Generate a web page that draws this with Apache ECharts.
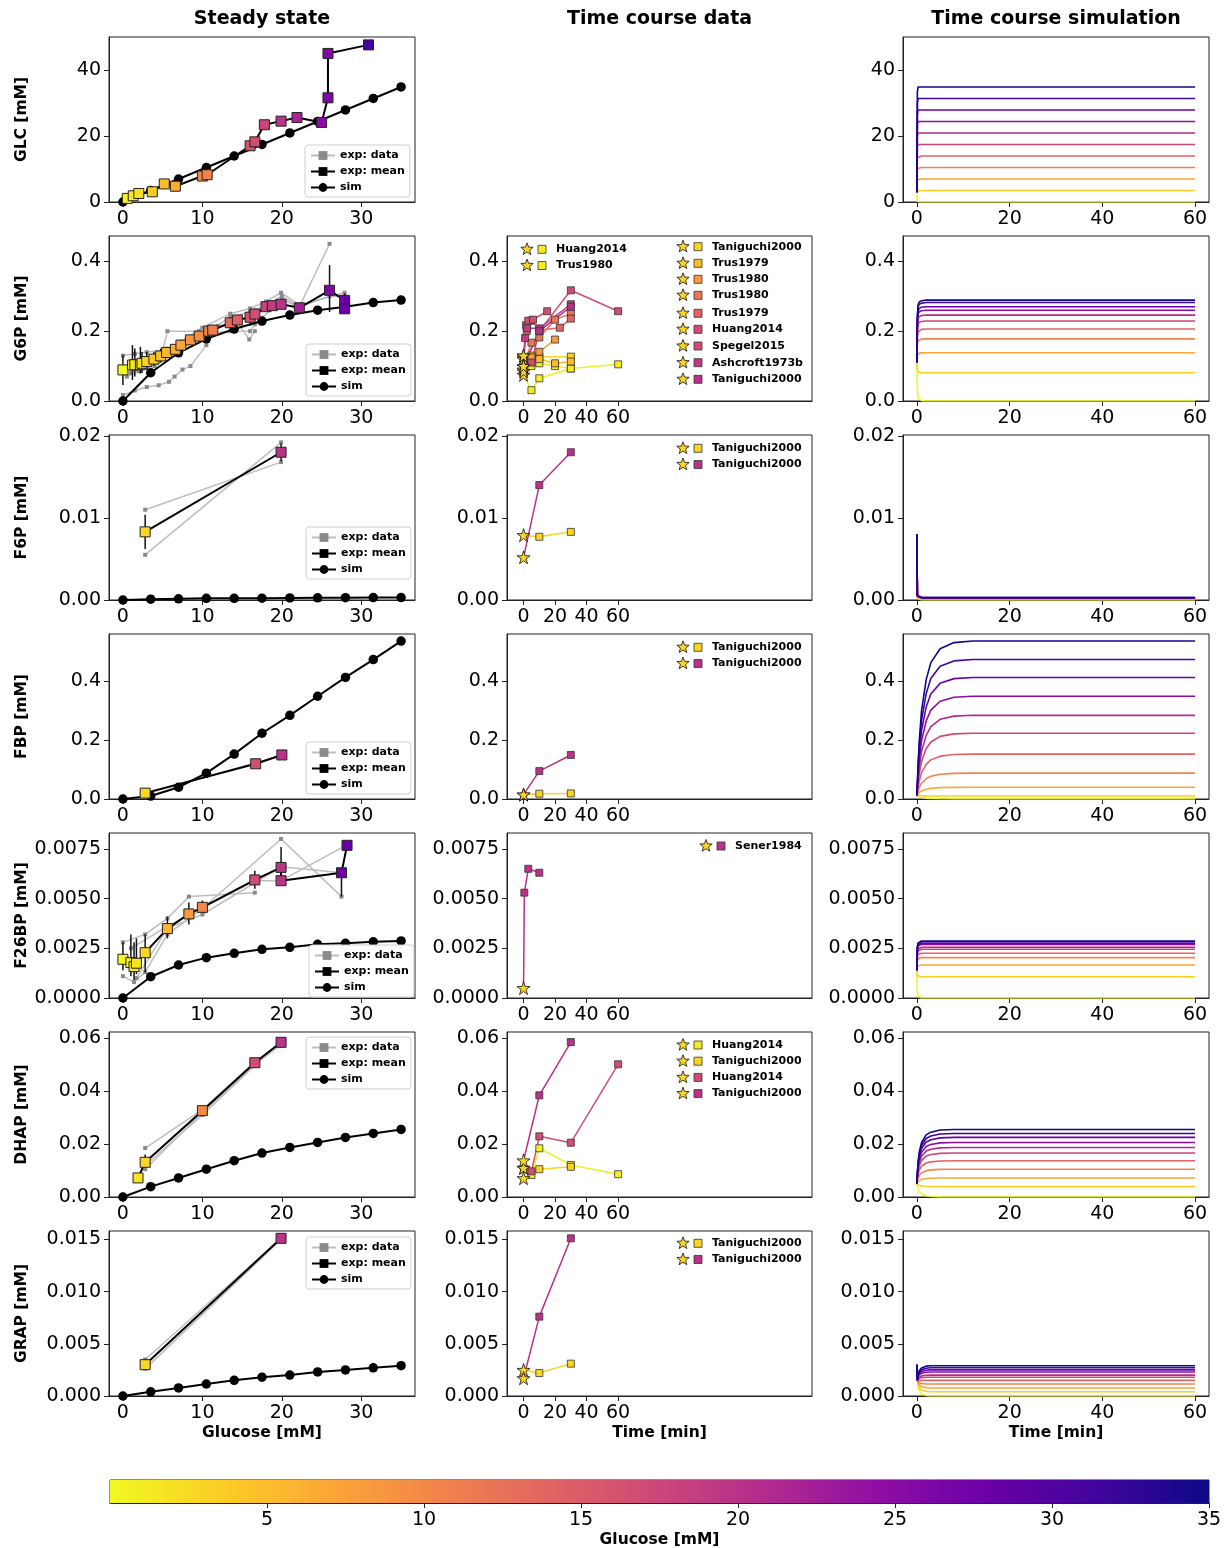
<!DOCTYPE html>
<html>
<head>
<meta charset="utf-8">
<script src="https://cdn.jsdelivr.net/npm/echarts@6/dist/echarts.min.js"></script>
<style>
html,body{margin:0;padding:0;background:#fff}
#chart{width:1227px;height:1548px}
</style>
</head>
<body>
<div id="chart"></div>
<script>
//==================== data ====================
var metabolites = ['GLC', 'G6P', 'F6P', 'FBP', 'F26BP', 'DHAP', 'GRAP'];
var glucoseSim = [0, 3.5, 7, 10.5, 14, 17.5, 21, 24.5, 28, 31.5, 35];

// simulated steady state per glucose
var glcSim = [0, 3.5, 7, 10.5, 14, 17.5, 21, 24.5, 28, 31.5, 35];
var g6pSim = [0, 0.081, 0.138, 0.178, 0.206, 0.229, 0.246, 0.26, 0.27, 0.282, 0.289];
var f6pSim = [0, 0.0001, 0.00015, 0.0002, 0.0002, 0.00022, 0.00025, 0.00027, 0.00028, 0.0003, 0.0003];
var fbpSim = [0, 0.01, 0.04, 0.088, 0.153, 0.224, 0.285, 0.35, 0.414, 0.475, 0.538];
var f26bpSim = [0, 0.00107, 0.00166, 0.00203, 0.00225, 0.00245, 0.00255, 0.0027, 0.00275, 0.00283, 0.00287];
var dhapSim = [0, 0.0039, 0.0072, 0.0105, 0.0137, 0.0166, 0.0187, 0.0206, 0.0225, 0.024, 0.0255];
var grapSim = [0, 0.0004, 0.00077, 0.00115, 0.0015, 0.0018, 0.002, 0.0023, 0.0025, 0.0027, 0.0029];

// experimental means [glucose, value]
var glcMean = [[0.55,1.1],[1.3,1.9],[2.0,2.6],[3.7,3.1],[5.2,5.5],[6.6,4.8],[10.0,7.9],[10.6,8.3],[16.0,17.1],[16.6,18.3],[17.8,23.5],[19.9,24.6],[21.9,25.7],[25.0,24.2],[25.8,31.7],[25.8,45.2],[30.9,47.8]];
var g6pMean = [[0,0.089],[1.2,0.103],[1.5,0.104],[2.2,0.104],[2.4,0.108],[3.0,0.113],[3.9,0.12],[4.75,0.129],[5.5,0.139],[6.6,0.148],[7.3,0.16],[8.5,0.175],[9.6,0.186],[10.8,0.2],[11.3,0.203],[13.5,0.224],[14.4,0.232],[16.0,0.24],[16.6,0.249],[18.0,0.27],[18.8,0.273],[19.9,0.277],[22.2,0.267],[26.0,0.317],[27.9,0.288],[27.9,0.264]];
var f6pMean = [[2.8,0.0083],[19.9,0.018]];
var fbpMean = [[2.8,0.02],[16.7,0.12],[20,0.15]];
var f26bpMean = [[0,0.00195],[1.0,0.00178],[1.4,0.00158],[1.7,0.00175],[2.8,0.00228],[5.6,0.00349],[8.3,0.00423],[10,0.00456],[16.6,0.00594],[19.9,0.00657],[19.9,0.0059],[27.5,0.0063],[28.2,0.00768]];
var dhapMean = [[1.9,0.0072],[2.8,0.0131],[10,0.0326],[16.6,0.0507],[19.9,0.0584]];
var grapMean = [[2.8,0.003],[19.9,0.0151]];

// error bars [glucose, low, high]
var glcErr = [];
var g6pErr = [[0,0.046,0.131],[1.2,0.06,0.16],[1.5,0.07,0.15],[2.2,0.079,0.155],[2.4,0.08,0.14],[3.0,0.09,0.14],[3.9,0.1,0.14],[4.75,0.11,0.15],[13.5,0.21,0.24],[16.0,0.215,0.26],[16.6,0.23,0.265],[26.0,0.255,0.389],[27.9,0.265,0.308]];
var f6pErr = [[2.8,0.0062,0.0104],[19.9,0.0169,0.0191]];
var fbpErr = [[2.8,0.016,0.024]];
var f26bpErr = [[0,0.0014,0.0028],[1.0,0.0011,0.0032],[1.4,0.0009,0.0028],[1.7,0.0012,0.003],[2.8,0.0013,0.0032],[5.6,0.003,0.0041],[8.3,0.0037,0.0048],[10,0.0043,0.0049],[16.6,0.0055,0.0064],[19.9,0.0059,0.0076],[27.5,0.0051,0.0063]];
var dhapErr = [[2.8,0.011,0.016]];
var grapErr = [[2.8,0.0025,0.0035]];

// individual experimental data sets (grey)
var glcData = [];
var g6pData = [
  [[0,0.017],[1.5,0.03],[3,0.04],[4.5,0.045],[5.8,0.055],[6.5,0.07],[7.5,0.09],[8.5,0.1],[10.5,0.16]],
  [[0,0.13],[1.5,0.135],[3,0.14],[5,0.145],[5.6,0.2],[9.6,0.2]],
  [[1,0.1],[3,0.12],[5.5,0.15],[8,0.175],[10.8,0.2],[13.5,0.24],[16,0.255],[18,0.275],[20,0.3],[22.2,0.27],[26,0.45]],
  [[1,0.08],[3,0.1],[5.5,0.13],[8,0.165],[10.8,0.195],[13.5,0.2],[16,0.2],[16.6,0.22],[20,0.29],[22.2,0.27],[26,0.3],[27.9,0.3]],
  [[0.5,0.07],[2,0.085],[4,0.1],[6.6,0.14],[9.6,0.185],[12,0.215],[14.4,0.225],[15.9,0.176],[16.6,0.2]],
  [[2,0.11],[4.75,0.13],[7.3,0.17],[10,0.21],[13.5,0.25],[16,0.265],[18,0.285],[19.9,0.31],[22.2,0.275],[27.9,0.31]]
];
var f6pData = [[[2.8,0.011],[19.9,0.0168]], [[2.8,0.0055],[19.9,0.0192]]];
var fbpData = [[[2.8,0.022],[16.7,0.118],[20,0.152]], [[2.8,0.017],[20,0.148]]];
var f26bpData = [
  [[0,0.0028],[2.8,0.0032],[5.6,0.004],[8.3,0.0051],[16.6,0.0053]],
  [[0,0.0011],[1.4,0.0008],[2.8,0.0013],[5.6,0.0032],[10,0.0045],[19.9,0.008],[27.5,0.0051]],
  [[1,0.0025],[5.6,0.0036],[16.6,0.0059],[19.9,0.0059],[28.2,0.0077]],
  [[1.7,0.001],[5.6,0.0035],[10,0.0042],[19.9,0.0066],[27.5,0.0063]]
];
var dhapData = [[[2.8,0.0185],[10,0.033],[16.6,0.051],[19.9,0.058]], [[2.8,0.0105],[10,0.032],[16.6,0.05],[19.9,0.0575]], [[2.8,0.012],[10,0.031],[19.9,0.059]]];
var grapData = [[[2.8,0.0035],[19.9,0.0151]], [[2.8,0.0026],[19.9,0.015]]];

// time course data: [label, glucose, [[t, value], ...]]  first point is the star (t=0)
var g6pTc = [
  ['Huang2014', 1, [[0,0.075],[5,0.031],[10,0.065],[30,0.093],[60,0.105]]],
  ['Trus1980', 1, [[0,0.09],[5,0.1],[10,0.108],[20,0.1],[30,0.093]]],
  ['Taniguchi2000', 3, [[0,0.125],[10,0.127],[30,0.127]]],
  ['Trus1979', 5, [[0,0.12],[5,0.13],[10,0.12],[20,0.108],[30,0.113]]],
  ['Trus1980', 8.3, [[0,0.1],[5,0.125],[10,0.141],[20,0.176]]],
  ['Trus1980', 12, [[0,0.1],[5,0.167],[10,0.182],[20,0.233],[30,0.25]]],
  ['Trus1979', 14, [[0,0.13],[2,0.2],[5,0.23],[10,0.203],[23,0.21],[30,0.236]]],
  ['Huang2014', 16.7, [[0,0.085],[5,0.11],[10,0.2],[30,0.317],[60,0.257]]],
  ['Spegel2015', 16.7, [[0,0.13],[1.6,0.217],[3,0.23],[6,0.233],[15,0.257]]],
  ['Ashcroft1973b', 19, [[0,0.1],[1,0.18],[2.3,0.208],[10,0.208],[30,0.277]]],
  ['Taniguchi2000', 20, [[0,0.1],[10,0.2],[30,0.27]]]
];
var f6pTc = [
  ['Taniguchi2000', 3, [[0,0.0079],[10,0.0077],[30,0.0083]]],
  ['Taniguchi2000', 20, [[0,0.0052],[10,0.014],[30,0.018]]]
];
var fbpTc = [
  ['Taniguchi2000', 3, [[0,0.015],[10,0.018],[30,0.019]]],
  ['Taniguchi2000', 20, [[0,0.015],[10,0.095],[30,0.15]]]
];
var f26bpTc = [
  ['Sener1984', 20, [[0,0.0005],[0.5,0.0053],[3,0.0065],[10,0.0063]]]
];
var dhapTc = [
  ['Huang2014', 1, [[0,0.011],[5,0.0083],[10,0.0184],[30,0.0121],[60,0.0086]]],
  ['Taniguchi2000', 3, [[0,0.0071],[10,0.0105],[30,0.0114]]],
  ['Huang2014', 16.7, [[0,0.011],[5,0.0097],[10,0.0229],[30,0.0205],[60,0.0501]]],
  ['Taniguchi2000', 20, [[0,0.0138],[10,0.0384],[30,0.0585]]]
];
var grapTc = [
  ['Taniguchi2000', 3, [[0,0.0025],[10,0.0022],[30,0.0031]]],
  ['Taniguchi2000', 20, [[0,0.0017],[10,0.0076],[30,0.0151]]]
];

// time course simulation: time points, start values, and fraction of steady state reached
var tSim = [0, 0.1, 0.25, 0.5, 1, 2, 3, 5, 8, 12, 20, 60];
var baseGLC = [3, 3, 3, 3, 3, 3, 3, 3, 3, 3, 3, 3];
var baseG6P = [0.11, 0.11, 0.11, 0.11, 0.11, 0.11, 0.11, 0.11, 0.11, 0.11, 0.11, 0.11];
var baseF6P = [0.008, 0.008, 0.008, 0.008, 0.008, 0.008, 0.008, 0.008, 0.008, 0.008, 0.008, 0.008];
var baseFBP = [0.012, 0.012, 0.012, 0.012, 0.012, 0.012, 0.012, 0.012, 0.012, 0.012, 0.012, 0.012];
var baseF26BP = [0.0014, 0.0014, 0.0014, 0.0014, 0.0014, 0.0014, 0.0014, 0.0014, 0.0014, 0.0014, 0.0014, 0.0014];
var baseDHAP = [0.005, 0.005, 0.005, 0.005, 0.005, 0.005, 0.005, 0.005, 0.005, 0.005, 0.005, 0.005];
var baseGRAP = [0.003, 0.0015, 0.0015, 0.0015, 0.0015, 0.0015, 0.0015, 0.0015, 0.0015, 0.0015, 0.0015, 0.0015];
var riseGLC = [0, 0.95, 1, 1, 1, 1, 1, 1, 1, 1, 1, 1];
var riseG6P = [0, 0.75, 0.92, 0.97, 0.99, 1, 1, 1, 1, 1, 1, 1];
var riseF6P = [0, 0.97, 1, 1, 1, 1, 1, 1, 1, 1, 1, 1];
var riseFBP = [0, 0.08, 0.2, 0.35, 0.55, 0.75, 0.86, 0.95, 0.99, 1, 1, 1];
var riseF26BP = [0, 0.8, 0.93, 0.98, 1, 1, 1, 1, 1, 1, 1, 1];
var riseDHAP = [0, 0.2, 0.4, 0.58, 0.76, 0.9, 0.95, 0.99, 1, 1, 1, 1];
var riseGRAP = [0, 0, 0.4, 0.65, 0.85, 0.97, 1, 1, 1, 1, 1, 1];

// axes
var yMax = [50.2, 0.4725, 0.0201, 0.562, 0.0083, 0.0623, 0.0158];
var yTicks = [[0,20,40],[0,0.2,0.4],[0,0.01,0.02],[0,0.2,0.4],[0,0.0025,0.005,0.0075],[0,0.02,0.04,0.06],[0,0.005,0.01,0.015]];
var yDec = [0, 1, 2, 1, 4, 2, 3];
var colTicks = [[0,10,20,30],[0,20,40,60],[0,20,40,60]];
var cbarTicks = [5, 10, 15, 20, 25, 30, 35];

//==================== layout / style ====================
var FONT = 'DejaVu Sans';
var colLeft = [109, 507, 903], colW = [306, 305, 306];
var colMin = [-1.75, -10.5, -3], colMax = [36.75, 183, 63];
var rowTop = [37, 236, 435, 634, 833, 1032, 1231], rowH = 165;
var legendPos = [[305,145],[306,344],[306,527],[306,742],[309,945],[306,1037],[306,1237]];

var simRows = [glcSim, g6pSim, f6pSim, fbpSim, f26bpSim, dhapSim, grapSim];
var meanRows = [glcMean, g6pMean, f6pMean, fbpMean, f26bpMean, dhapMean, grapMean];
var errRows = [glcErr, g6pErr, f6pErr, fbpErr, f26bpErr, dhapErr, grapErr];
var dataRows = [glcData, g6pData, f6pData, fbpData, f26bpData, dhapData, grapData];
var tcRows = [null, g6pTc, f6pTc, fbpTc, f26bpTc, dhapTc, grapTc];
var baseRows = [baseGLC, baseG6P, baseF6P, baseFBP, baseF26BP, baseDHAP, baseGRAP];
var riseRows = [riseGLC, riseG6P, riseF6P, riseFBP, riseF26BP, riseDHAP, riseGRAP];

// plasma colormap (reversed: 0 mM yellow, 35 mM dark blue)
var plasma = ['#0d0887','#41049d','#6a00a8','#8f0da4','#b12a90','#cc4778','#e16462','#f2844b','#fca636','#fcce25','#f0f921'];
function hexRgb(h) { return [parseInt(h.substr(1,2),16), parseInt(h.substr(3,2),16), parseInt(h.substr(5,2),16)]; }
function cmap(g) {
  var p = 1 - g / 35;
  if (p < 0) p = 0; if (p > 1) p = 1;
  var s = p * 10, i = Math.min(9, Math.floor(s)), f = s - i;
  var a = hexRgb(plasma[i]), b = hexRgb(plasma[i + 1]);
  return 'rgb(' + Math.round(a[0] + (b[0]-a[0])*f) + ',' + Math.round(a[1] + (b[1]-a[1])*f) + ',' + Math.round(a[2] + (b[2]-a[2])*f) + ')';
}
var starColor = cmap(3);
var starPath = 'path://M50,2 L61.2,36.2 L97.1,36.2 L68.1,57.3 L79.2,91.5 L50,70.4 L20.8,91.5 L31.9,57.3 L2.9,36.2 L38.8,36.2 Z';

var grids = [], xAxes = [], yAxes = [], series = [], legends = [], graphics = [];

function addPanel(r, c) {
  var gi = grids.length;
  grids.push({left: colLeft[c], top: rowTop[r], width: colW[c], height: rowH, show: true,
    borderColor: '#222', borderWidth: 1, backgroundColor: 'transparent', outerBoundsMode: 'none'});
  xAxes.push({type: 'value', gridIndex: gi, min: colMin[c], max: colMax[c],
    splitLine: {show: false},
    axisLine: {show: true, onZero: false, lineStyle: {color: '#222', width: 1}},
    axisTick: {show: true, length: 5, customValues: colTicks[c], lineStyle: {color: '#222'}},
    axisLabel: {customValues: colTicks[c], fontSize: 19, fontFamily: FONT, color: '#000', margin: 8}});
  var dec = yDec[r];
  yAxes.push({type: 'value', gridIndex: gi, min: 0, max: yMax[r],
    splitLine: {show: false},
    axisLine: {show: true, onZero: false, lineStyle: {color: '#222', width: 1}},
    axisTick: {show: true, length: 5, customValues: yTicks[r], lineStyle: {color: '#222'}},
    axisLabel: {customValues: yTicks[r], fontSize: 19, fontFamily: FONT, color: '#000', margin: 8,
      formatter: function (v) { return v.toFixed(dec); }}});
  return gi;
}

function errorRender(params, api) {
  var p1 = api.coord([api.value(0), api.value(1)]);
  var p2 = api.coord([api.value(0), api.value(2)]);
  return {type: 'line', shape: {x1: p1[0], y1: p1[1], x2: p2[0], y2: p2[1]},
    style: {stroke: '#111', lineWidth: 1.5}};
}

//==================== panels ====================
for (var r = 0; r < 7; r++) {
  // ---- steady state ----
  var gi = addPanel(r, 0);
  dataRows[r].forEach(function (d) {
    series.push({type: 'line', name: 'exp: data', xAxisIndex: gi, yAxisIndex: gi, data: d,
      symbol: 'rect', symbolSize: 4, z: 2,
      lineStyle: {color: '#bdbdbd', width: 1.5}, itemStyle: {color: '#8a8a8a'}});
  });
  series.push({type: 'line', name: 'sim', xAxisIndex: gi, yAxisIndex: gi, z: 3,
    data: glucoseSim.map(function (g, k) { return [g, simRows[r][k]]; }),
    symbol: 'circle', symbolSize: 9.5,
    lineStyle: {color: '#000', width: 2}, itemStyle: {color: '#000'}});
  if (errRows[r].length) {
    series.push({type: 'custom', name: 'err', xAxisIndex: gi, yAxisIndex: gi, z: 4,
      data: errRows[r], encode: {x: 0, y: [1, 2]}, renderItem: errorRender});
  }
  series.push({type: 'line', name: 'exp: mean', xAxisIndex: gi, yAxisIndex: gi, z: 5,
    data: meanRows[r].map(function (p) {
      return {value: p, itemStyle: {color: cmap(p[0]), borderColor: '#222', borderWidth: 1}};
    }),
    symbol: 'rect', symbolSize: 10,
    lineStyle: {color: '#000', width: 2}, itemStyle: {color: '#000'}});
  legends.push({data: ['exp: data', 'exp: mean', 'sim'], orient: 'vertical',
    left: legendPos[r][0], top: legendPos[r][1], selectedMode: false,
    itemWidth: 24, itemHeight: 11, itemGap: 5, padding: [5, 5, 4, 5],
    backgroundColor: '#fff', borderColor: '#cfcfcf', borderWidth: 1, borderRadius: 3,
    textStyle: {fontFamily: FONT, fontWeight: 'bold', fontSize: 11, color: '#000'}});

  // ---- time course data ----
  if (tcRows[r]) {
    var gj = addPanel(r, 1);
    tcRows[r].forEach(function (e, k) {
      var col = cmap(e[1]);
      series.push({type: 'line', name: metabolites[r] + '_tc' + k, xAxisIndex: gj, yAxisIndex: gj, z: 3,
        data: e[2].map(function (p, j) {
          if (j === 0) return {value: p, symbol: starPath, symbolSize: 13,
            itemStyle: {color: starColor, borderColor: '#111', borderWidth: 0.8}};
          return {value: p};
        }),
        symbol: 'rect', symbolSize: 7,
        lineStyle: {color: col, width: 1.5},
        itemStyle: {color: col, borderColor: '#333', borderWidth: 0.8}});
    });
  }

  // ---- time course simulation ----
  var gk = addPanel(r, 2);
  glucoseSim.forEach(function (g, k) {
    var lvl = simRows[r][k], base = baseRows[r], rise = riseRows[r];
    series.push({type: 'line', name: metabolites[r] + '_sim' + k, xAxisIndex: gk, yAxisIndex: gk,
      showSymbol: false, symbol: 'none', z: 2 + k * 0.01,
      data: tSim.map(function (t, j) { return [t, base[j] + (lvl - base[j]) * rise[j]]; }),
      lineStyle: {color: cmap(g), width: 1.6}});
  });
}

//==================== time course legends (star + square + label) ====================
function starPoints(cx, cy, R) {
  var pts = [];
  for (var k = 0; k < 10; k++) {
    var rad = k % 2 === 0 ? R : R * 0.42;
    var a = -Math.PI / 2 + k * Math.PI / 5;
    pts.push([cx + rad * Math.cos(a), cy + rad * Math.sin(a)]);
  }
  return pts;
}
function legendEntry(x, y, label, g) {
  graphics.push({type: 'polygon', shape: {points: starPoints(x, y, 6.5)},
    style: {fill: starColor, stroke: '#111', lineWidth: 0.8}, z: 100});
  graphics.push({type: 'rect', shape: {x: x + 11, y: y - 4, width: 8, height: 8},
    style: {fill: cmap(g), stroke: '#333', lineWidth: 0.8}, z: 100});
  graphics.push({type: 'text', x: x + 29, y: y, z: 100,
    style: {text: label, fill: '#000', font: 'bold 11px "DejaVu Sans"', textVerticalAlign: 'middle', verticalAlign: 'middle'}});
}
var g6pLegY = [246.7, 263.3, 279.3, 295.3, 313.3, 329.3, 346, 362.7, 379.3];
legendEntry(527, 249.3, g6pTc[0][0], g6pTc[0][1]);
legendEntry(527, 265.5, g6pTc[1][0], g6pTc[1][1]);
for (var i = 2; i < g6pTc.length; i++) legendEntry(683, g6pLegY[i - 2], g6pTc[i][0], g6pTc[i][1]);
[[f6pTc, 448.3], [fbpTc, 647.3], [dhapTc, 1045], [grapTc, 1243.3]].forEach(function (it) {
  it[0].forEach(function (e, k) { legendEntry(683, it[1] + k * 16.2, e[0], e[1]); });
});
legendEntry(706, 846, f26bpTc[0][0], f26bpTc[0][1]);

//==================== titles and axis names ====================
function label(x, y, txt, size, rot) {
  graphics.push({type: 'text', x: x, y: y, rotation: rot || 0, z: 100,
    style: {text: txt, fill: '#000', font: 'bold ' + size + 'px "DejaVu Sans"',
      textAlign: 'center', align: 'center', textVerticalAlign: 'middle', verticalAlign: 'middle'}});
}
label(262, 19, 'Steady state', 19);
label(659.5, 19, 'Time course data', 19);
label(1056, 19, 'Time course simulation', 19);
metabolites.forEach(function (m, r) { label(22, rowTop[r] + rowH / 2, m + ' [mM]', 15.5, Math.PI / 2); });
label(262, 1433, 'Glucose [mM]', 15.5);
label(659.5, 1433, 'Time [min]', 15.5);
label(1056, 1433, 'Time [min]', 15.5);
label(659.5, 1540, 'Glucose [mM]', 15.5);

//==================== colorbar ====================
var cb = grids.length;
grids.push({left: 110, top: 1480, width: 1099, height: 23, show: true, borderColor: '#222', borderWidth: 1, outerBoundsMode: 'none'});
xAxes.push({type: 'value', gridIndex: cb, min: 0, max: 35, splitLine: {show: false},
  axisLine: {show: true, lineStyle: {color: '#222'}},
  axisTick: {show: true, length: 5, customValues: cbarTicks, lineStyle: {color: '#222'}},
  axisLabel: {customValues: cbarTicks, fontSize: 19, fontFamily: FONT, color: '#000', margin: 8}});
yAxes.push({type: 'value', gridIndex: cb, min: 0, max: 1, show: false});
var cbStops = plasma.slice().reverse().map(function (c, k) { return {offset: k / 10, color: c}; });
series.push({type: 'custom', name: 'colorbar', xAxisIndex: cb, yAxisIndex: cb, data: [[0, 0, 35, 1]],
  encode: {x: [0, 2], y: [1, 3]},
  renderItem: function (params, api) {
    var p0 = api.coord([api.value(0), api.value(3)]);
    var p1 = api.coord([api.value(2), api.value(1)]);
    return {type: 'rect', shape: {x: p0[0], y: p0[1], width: p1[0] - p0[0], height: p1[1] - p0[1]},
      style: {fill: new echarts.graphic.LinearGradient(0, 0, 1, 0, cbStops)}};
  }});

//==================== chart ====================
var myChart = echarts.init(document.getElementById('chart'), null, {renderer: 'canvas'});
myChart.setOption({
  animation: false,
  backgroundColor: '#fff',
  textStyle: {fontFamily: FONT},
  grid: grids,
  xAxis: xAxes,
  yAxis: yAxes,
  legend: legends,
  series: series,
  graphic: {elements: graphics}
});
</script>
</body>
</html>
